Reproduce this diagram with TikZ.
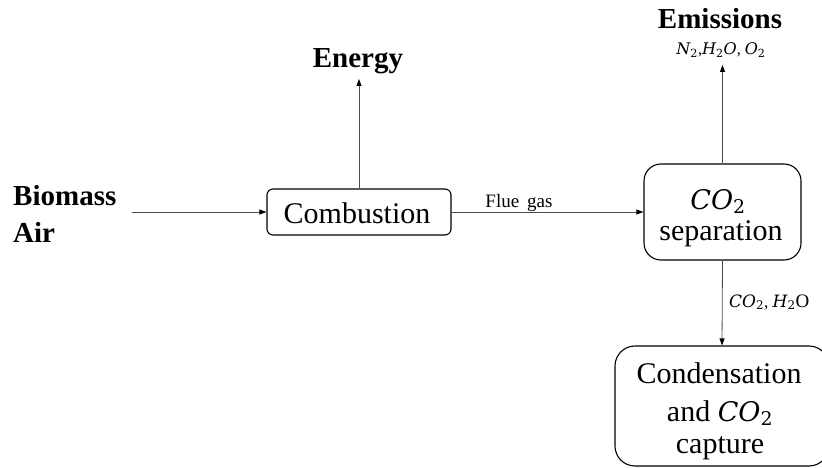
\RequirePackage{fix-cm}
\documentclass[tikz,border=0pt]{standalone}
\usepackage{fontspec}
\setmainfont{Liberation Serif}
\newfontfamily\camfont{DejaVu Serif}
\newcommand\camit[1]{{\camfont\itshape #1}}
\newcommand\csub[1]{\textsubscript{\camfont\upshape #1}}
\usetikzlibrary{arrows.meta}
\begin{document}
\begin{tikzpicture}[x=1pt,y=-1pt,
  box/.style={draw=black, line width=1.1pt, rounded corners=#1, inner sep=0pt},
  flow/.style={draw=black!70, line width=0.8pt, -{Triangle[length=7pt,width=5pt,fill=black,color=black]}},
  big/.style={font=\fontsize{30}{34}\selectfont, inner sep=0pt},
  bigb/.style={font=\fontsize{29}{34}\selectfont\bfseries, inner sep=0pt},
  small/.style={font=\fontsize{16}{18}\selectfont, inner sep=0pt},
]
\useasboundingbox (0,0) rectangle (822,468);

% boxes
\node[box=6pt, minimum width=184pt, minimum height=46pt] (comb) at (359,212) {};
\node[box=17pt, minimum width=157pt, minimum height=96pt] (sep) at (722.5,212) {};
\node[box=20pt, minimum width=214pt, minimum height=120pt] (cond) at (722,406) {};

% box texts
\node[big, anchor=base] (combt) at (357,223) {Combustion};
\node[big, anchor=base] (sept1) at (718,209) {\fontsize{27}{30}\selectfont\camit{CO}\csub{2}};
\node[big, anchor=base] (sept2) at (721,240) {separation};
\node[big, anchor=base] (condt1) at (719,383) {Condensation};
\node[big, anchor=base] (condt2) at (720,421) {and \fontsize{27}{30}\selectfont\camit{CO}\csub{2}};
\node[big, anchor=base] (condt3) at (720,453) {capture};

% side texts
\node[bigb, anchor=base west] (bio) at (13,205) {Biomass};
\node[bigb, anchor=base west] (air) at (13,242) {Air};
\node[bigb, anchor=base] (en) at (358,68) {Energy};
\node[bigb, anchor=base] (em) at (720,29) {Emissions};
\node[small, anchor=base] (emsub) at (721,55) {\camit{N}\csub{2},\camit{H}\csub{2}\camit{O}, \camit{O}\csub{2}};
\node[font=\fontsize{19}{21}\selectfont, inner sep=0pt, anchor=base] (flue) at (519,207) {Flue\,\ gas};
\node[font=\fontsize{17}{19}\selectfont, inner sep=0pt, anchor=base west] (lab2) at (729,307) {\camit{CO}\csub{2}, \camit{H}\csub{2}{\fontsize{19}{21}\selectfont O}};

% connector end points
\coordinate (inp) at (132,212);
\coordinate (entip) at (359,79);
\coordinate (emtip) at (722.5,65);

% connectors
\draw[flow] (inp) -- (comb.west);
\draw[flow] (comb.north) -- (entip);
\draw[flow] (comb.east) -- (sep.west);
\draw[flow] (sep.north) -- (emtip);
\draw[flow] (sep.south) -- (cond.north);
\end{tikzpicture}
\end{document}
